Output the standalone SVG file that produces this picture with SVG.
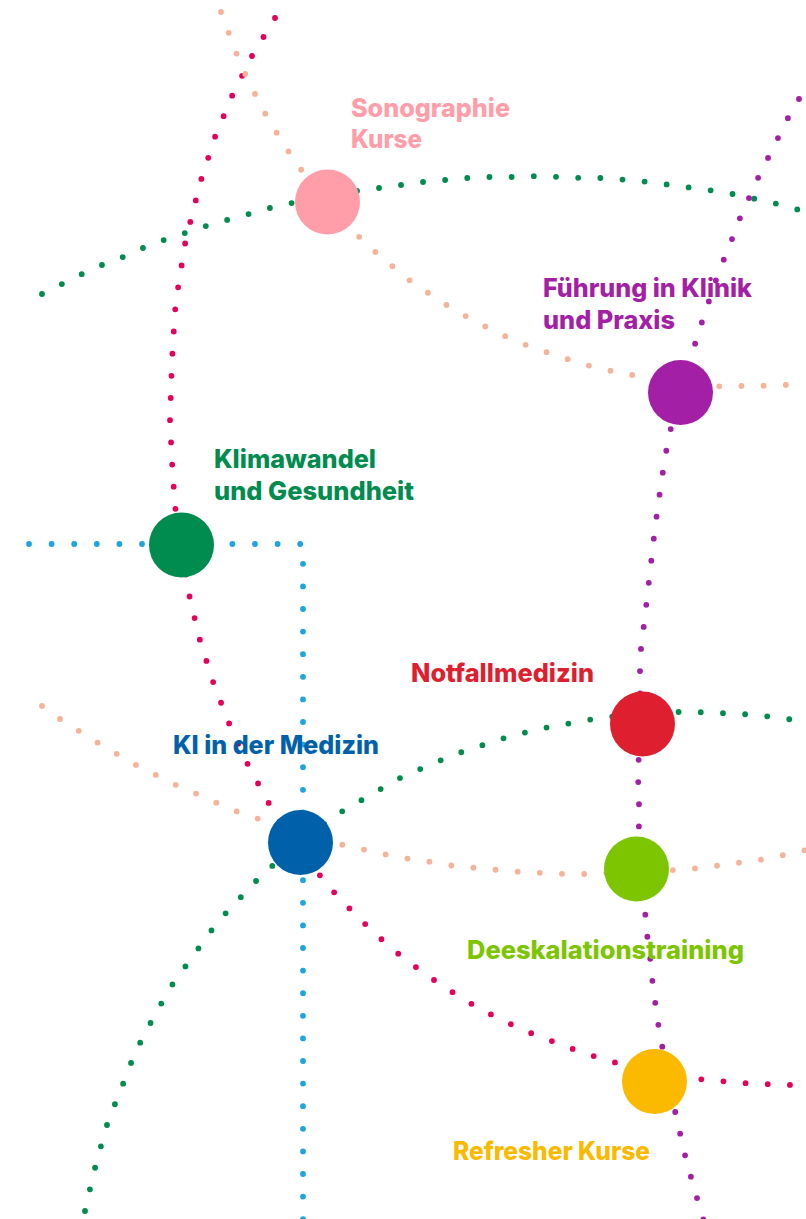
<svg xmlns="http://www.w3.org/2000/svg" width="806" height="1219" viewBox="0 0 806 1219">
<style>
.ln{fill:none;stroke-width:5.8;stroke-linecap:round;stroke-linejoin:round;stroke-dasharray:0 22.2}
.mag{stroke:#E5005A}
.pch{stroke:#F5B39A}
.grn{stroke:#008C4E}
.pur{stroke:#A31FA5}
.cyn{stroke:#1DA6DD}
.lbl{font-family:Inter,"Liberation Sans",sans-serif;font-weight:800;font-size:25.5px}
</style>
<rect width="806" height="1219" fill="#ffffff"/>
<g id="connectors">
<path class="ln mag" d="M275,18 L252,56 L232,96 L215,137 L201,180 L190,223 L185,244 L178,288 L175,311 L172,360 L170,420 L172,462 L175,506 L181,545 L189,594 L199,637 L212,679 L228,721 L246,761 L267,800 L278,819 L298,846 L318,873 L332,890 L347,906 L363,922 L379,937 L396,952 L413,965 L431,978 L449,990 L468,1002 L488,1013 L508,1023 L528,1032 L549,1040 L570,1048 L590,1055 L611,1061 L654,1076 L698,1079 L720,1081 L742,1083 L764,1084 L792,1085 L806,1085"/>
<path class="ln pch" d="M221,12 L231,39 L239,60 L248,80 L258,100 L268,119 L280,138 L292,157 L305,175 L327,202 L363,241 L380,256 L397,270 L414,284 L433,296 L451,308 L471,319 L490,329 L511,339 L531,347 L552,354 L573,361 L594,367 L616,372 L638,376 L680,388 L726,386 L751,386 L785,385 L806,383"/>
<path class="ln grn" d="M42,294 L62,284 L82,274 L102,265 L123,257 L143,248 L164,240 L185,233 L206,226 L227,220 L249,214 L270,208 L292,203 L327,196 L357,191 L379,188 L401,185 L423,182 L445,180 L467,178 L490,177 L512,177 L537,176 L560,177 L582,178 L604,178 L627,180 L649,182 L671,185 L693,188 L716,191 L738,195 L760,200 L782,205 L806,212"/>
<path class="ln pur" d="M799,99 L788,118 L778,138 L768,158 L758,178 L749,198 L740,218 L732,239 L724,259 L716,280 L709,301 L702,322 L695,344 L680,392 L668,440 L661,484 L655,528 L650,572 L645,616 L641,649 L640,671 L640,723 L638,777 L639,799 L639,822 L638,868 L645,911 L647,934 L650,956 L652,978 L655,1001 L658,1023 L662,1045 L668,1081 L675,1111 L680,1133 L685,1155 L691,1177 L697,1198 L705,1225"/>
<path class="ln cyn" style="stroke-dasharray:0 22.6" d="M29,544 L303,544 L303,1222"/>
<path class="ln pch" d="M42,706 L60,719 L79,731 L98,743 L117,754 L136,765 L156,775 L176,785 L197,794 L217,803 L238,812 L259,819 L300,835 L344,845 L366,850 L388,855 L410,859 L432,862 L454,866 L476,868 L498,870 L521,872 L543,873 L565,874 L586,874 L636,871 L678,870 L700,868 L722,865 L744,862 L766,859 L788,854 L806,850"/>
<path class="ln grn" d="M85,1211 L90,1189 L95,1168 L101,1146 L107,1125 L115,1104 L123,1084 L131,1063 L140,1043 L150,1024 L161,1004 L172,985 L185,967 L198,949 L211,931 L225,914 L240,898 L255,882 L271,867 L300,842 L341,812 L360,801 L379,790 L398,779 L418,770 L439,761 L459,753 L480,746 L501,739 L523,733 L544,728 L566,724 L587,720 L609,717 L643,713 L675,712 L695,712 L720,713 L742,714 L765,716 L787,719 L806,721"/>
</g>
<g id="node-sonographie">
<circle cx="327.5" cy="202" r="32.5" fill="#FF9EA8"/>
<text class="lbl" fill="#FF9EA8"><tspan x="351" y="117" textLength="159" lengthAdjust="spacingAndGlyphs">Sonographie</tspan><tspan x="351" y="148" textLength="71" lengthAdjust="spacingAndGlyphs">Kurse</tspan></text>
</g>
<g id="node-fuehrung">
<circle cx="680.5" cy="392.5" r="32.5" fill="#A31FA5"/>
<text class="lbl" fill="#A31FA5"><tspan x="543" y="297" textLength="209" lengthAdjust="spacingAndGlyphs">Führung in Klinik</tspan><tspan x="543" y="329" textLength="132" lengthAdjust="spacingAndGlyphs">und Praxis</tspan></text>
</g>
<g id="node-klimawandel">
<circle cx="181.5" cy="545" r="32.5" fill="#008C4E"/>
<text class="lbl" fill="#008C4E"><tspan x="214" y="468" textLength="162" lengthAdjust="spacingAndGlyphs">Klimawandel</tspan><tspan x="214" y="500" textLength="200" lengthAdjust="spacingAndGlyphs">und Gesundheit</tspan></text>
</g>
<g id="node-notfallmedizin">
<circle cx="642.5" cy="724" r="32.5" fill="#DE1F2F"/>
<text class="lbl" fill="#DE1F2F" x="411" y="682" textLength="183" lengthAdjust="spacingAndGlyphs">Notfallmedizin</text>
</g>
<g id="node-ki">
<circle cx="300.5" cy="842.5" r="32.5" fill="#0061AA"/>
<text class="lbl" fill="#0061AA" x="173" y="754" textLength="206" lengthAdjust="spacingAndGlyphs">KI in der Medizin</text>
</g>
<g id="node-deeskalation">
<circle cx="636.5" cy="869" r="32.5" fill="#7DC500"/>
<text class="lbl" fill="#7DC500" x="467" y="959" textLength="277" lengthAdjust="spacingAndGlyphs">Deeskalationstraining</text>
</g>
<g id="node-refresher">
<circle cx="654.5" cy="1081.5" r="32.5" fill="#FBB900"/>
<text class="lbl" fill="#FBB900" x="453" y="1160" textLength="197" lengthAdjust="spacingAndGlyphs">Refresher Kurse</text>
</g>
</svg>
